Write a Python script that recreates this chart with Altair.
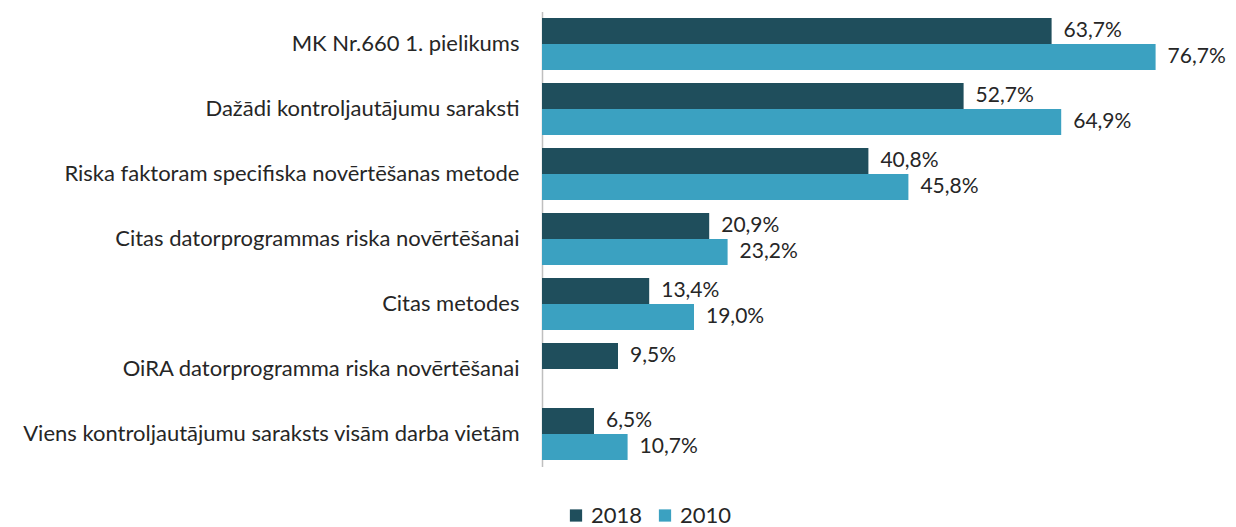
import altair as alt
import pandas as pd

categories = [
    "MK Nr.660 1. pielikums",
    "Dažādi kontroljautājumu saraksti",
    "Riska faktoram specifiska novērtēšanas metode",
    "Citas datorprogrammas riska novērtēšanai",
    "Citas metodes",
    "OiRA datorprogramma riska novērtēšanai",
    "Viens kontroljautājumu saraksts visām darba vietām",
]
years = ["2018", "2010"]
values_2018 = [63.7, 52.7, 40.8, 20.9, 13.4, 9.5, 6.5]
values_2010 = [76.7, 64.9, 45.8, 23.2, 19.0, None, 10.7]
colors = ["#1F4E5C", "#3BA1C1"]

rows = []
for c, a, b in zip(categories, values_2018, values_2010):
    rows.append({"cat": c, "year": "2018", "value": a})
    if b is not None:
        rows.append({"cat": c, "year": "2010", "value": b})
df = pd.DataFrame(rows)

FONT = "Lato"
TXT = "#262626"
FS = 22

y = alt.Y("cat:N", sort=categories,
          scale=alt.Scale(paddingInner=0.2, paddingOuter=0.1),
          axis=alt.Axis(title=None, ticks=False, labelPadding=23,
                        labelFontSize=FS, labelFont=FONT, labelColor=TXT,
                        domainColor="#BFBFBF", domainWidth=1.5, labelLimit=700))
yoff = alt.YOffset("year:N", sort=years, scale=alt.Scale(paddingInner=0, paddingOuter=0))
x = alt.X("value:Q", scale=alt.Scale(domain=[0, 80], nice=False), axis=None)

base = alt.Chart(df).encode(y=y, yOffset=yoff, x=x)

bars = base.mark_bar(size=26).encode(
    color=alt.Color("year:N", sort=years,
                    scale=alt.Scale(domain=years, range=colors),
                    legend=alt.Legend(title=None, orient="none", direction="horizontal",
                                      legendX=23, legendY=493, labelFontSize=FS,
                                      labelFont=FONT, labelColor=TXT, symbolType="square",
                                      symbolSize=150, symbolStrokeWidth=0,
                                      columnPadding=11, labelOffset=4, padding=0))
)

labels = base.transform_calculate(
    lab="replace(format(datum.value, '.1f'), '.', ',') + '%'"
).mark_text(align="left", baseline="middle", dx=12, fontSize=21, font=FONT, color=TXT).encode(
    text="lab:N"
)

chart = alt.layer(bars, labels).properties(
    width=640, height=455,
    padding={"left": 534, "top": 3.5, "right": 46, "bottom": 60.5},
    autosize=alt.AutoSizeParams(type="none"),
).configure_view(stroke=None)

chart.save("out.html", embed_options={"renderer": "svg", "actions": False})
